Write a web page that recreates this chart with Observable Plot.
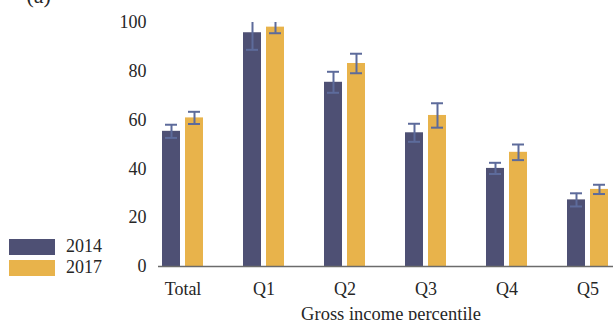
<!DOCTYPE html>
<html>
<head>
<meta charset="utf-8">
<script src="https://cdn.jsdelivr.net/npm/d3@7"></script>
<script src="https://cdn.jsdelivr.net/npm/@observablehq/plot@0.6"></script>
<style>
  html, body { margin: 0; padding: 0; background: #fff; overflow: hidden; }
  #wrap { position: relative; width: 613px; height: 320px; }
  #legend { position: absolute; left: 9px; top: 236px; font-family: "Liberation Serif", serif; font-size: 18px; color: #262626; }
  .row { display: flex; align-items: center; height: 21px; }
  .sw { width: 46px; height: 16px; margin-right: 11px; }
</style>
</head>
<body>
<div id="wrap"><div id="legend"></div></div>
<script>
// Share of households by gross income percentile, 2014 vs 2017, with error bars
const categories = ["Total", "Q1", "Q2", "Q3", "Q4", "Q5"];
const years = ["2014", "2017"];
const values2014 = [55.4, 95.8, 75.5, 54.8, 40.2, 27.3];
const values2017 = [60.9, 98.1, 83.2, 61.9, 46.8, 31.6];
const errors2014 = [2.7, 7.0, 4.3, 3.7, 2.3, 2.7];
const errors2017 = [2.5, 2.5, 4.0, 5.0, 3.2, 1.9];
const yTicks = [0, 20, 40, 60, 80, 100];

const colors = {"2014": "#4e5074", "2017": "#e8b34b"};
const errColor = "#5d6b9b";

const rows2014 = categories.map((c, i) => ({cat: c, year: "2014", v: values2014[i], e: errors2014[i]}));
const rows2017 = categories.map((c, i) => ({cat: c, year: "2017", v: values2017[i], e: errors2017[i]}));

// per-year placement inside each category band (band step is 81px)
const place = {
  "2014": {barL: 20, barR: 43, dx: -11.5, capL: 23, capR: 46},
  "2017": {barL: 43, barR: 20, dx: 11.5, capL: 46, capR: 23}
};

function seriesMarks(rows, year) {
  const p = place[year];
  return [
    Plot.barY(rows, {x: "cat", y: "v", fill: colors[year], insetLeft: p.barL, insetRight: p.barR}),
    Plot.ruleX(rows, {x: "cat", y1: d => d.v - d.e, y2: d => d.v + d.e, dx: p.dx, stroke: errColor, strokeWidth: 2, clip: true}),
    Plot.tickY(rows, {x: "cat", y: d => d.v - d.e, insetLeft: p.capL, insetRight: p.capR, stroke: errColor, strokeWidth: 2, clip: true}),
    Plot.tickY(rows, {x: "cat", y: d => d.v + d.e, insetLeft: p.capL, insetRight: p.capR, stroke: errColor, strokeWidth: 2, clip: true})
  ];
}

const chart = Plot.plot({
  width: 613,
  height: 320,
  marginLeft: 158,
  marginRight: 0,
  marginTop: 22,
  marginBottom: 54,
  style: {fontFamily: "Liberation Serif, serif", fontSize: "18px", color: "#262626", background: "#fff", overflow: "visible"},
  x: {domain: categories, range: [142, 628], padding: 0, tickSize: 0, tickPadding: 16, label: null},
  y: {domain: [0, 100], ticks: yTicks, tickSize: 0, tickPadding: 12, label: null},
  marks: [
    ...seriesMarks(rows2014, "2014"),
    ...seriesMarks(rows2017, "2017"),
    Plot.ruleY([0], {stroke: "#6b6b6b", strokeWidth: 1.5}),
    Plot.text(["Gross income percentile"], {frameAnchor: "bottom", dx: 5, dy: 53, fill: "#262626", fontSize: 18.5}),
    Plot.text(["(a)"], {frameAnchor: "top-left", dx: -132, dy: -35, fill: "#262626", fontSize: 22})
  ]
});
document.getElementById("wrap").prepend(chart);
chart.style.position = "absolute";
chart.style.left = "0px";
chart.style.top = "0px";

const legend = document.getElementById("legend");
years.forEach(y => {
  const row = document.createElement("div");
  row.className = "row";
  const sw = document.createElement("div");
  sw.className = "sw";
  sw.style.background = colors[y];
  const lab = document.createElement("span");
  lab.textContent = y;
  row.append(sw, lab);
  legend.append(row);
});
</script>
</body>
</html>
